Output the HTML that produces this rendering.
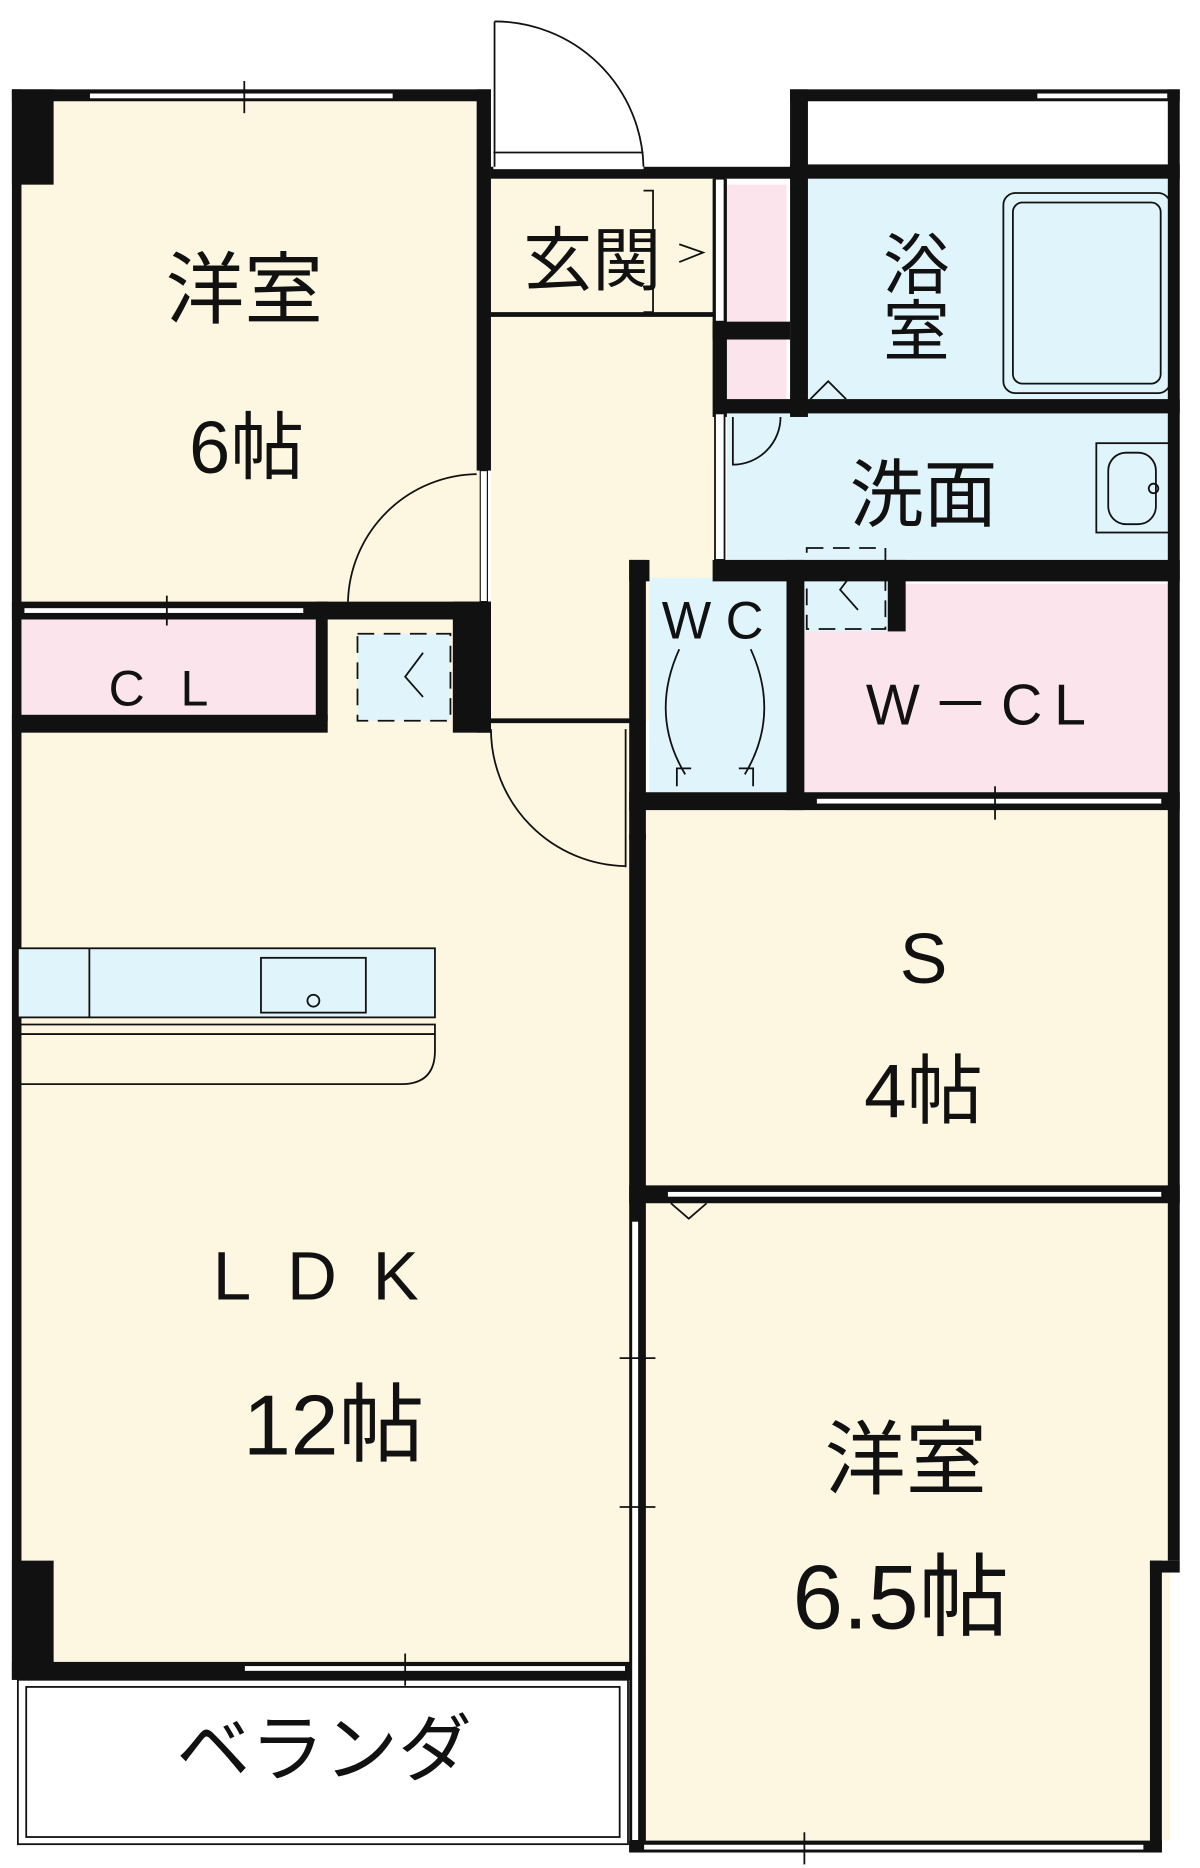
<!DOCTYPE html>
<html><head><meta charset="utf-8"><style>
html,body{margin:0;padding:0;background:#fff;}
svg{display:block;}
text{font-family:"Liberation Sans","Noto Sans CJK JP",sans-serif;fill:#111;}
</style></head><body>
<svg width="1200" height="1868" viewBox="0 0 1007 1568" preserveAspectRatio="none" xmlns="http://www.w3.org/2000/svg">
<rect width="1007" height="1568" fill="#fff"/>
<g stroke="none">
<rect x="15" y="85" width="387" height="420" fill="#fdf6e0"/>
<rect x="412" y="150" width="188" height="455" fill="#fdf6e0"/>
<rect x="15" y="520" width="250" height="82" fill="#fce4ec"/>
<rect x="275" y="520" width="127" height="95" fill="#fdf6e0"/>
<rect x="15" y="615" width="513" height="782" fill="#fdf6e0"/>
<rect x="412" y="605" width="116" height="100" fill="#fdf6e0"/>
<rect x="610" y="155" width="50" height="115" fill="#fce4ec"/>
<rect x="610" y="285" width="50" height="52" fill="#fce4ec"/>
<rect x="675" y="150" width="310" height="187" fill="#dff4fb"/>
<rect x="610" y="347" width="378" height="123" fill="#dff4fb"/>
<rect x="545" y="485" width="115" height="180" fill="#dff4fb"/>
<rect x="675" y="490" width="313" height="175" fill="#fce4ec"/>
<rect x="542" y="680" width="446" height="316" fill="#fdf6e0"/>
<rect x="542" y="1010" width="440" height="535" fill="#fdf6e0"/>
<rect x="300" y="532" width="78" height="73" fill="#dff4fb"/>
<rect x="675" y="460" width="70" height="70" fill="#dff4fb"/>
</g>
<g fill="#111">
<rect x="10" y="75" width="8" height="1335"/>
<rect x="10" y="75" width="35" height="80"/>
<rect x="10" y="1310" width="35" height="100"/>
<rect x="10" y="75" width="402" height="10"/>
<rect x="400" y="75" width="12" height="320"/>
<rect x="400" y="505" width="12" height="110"/>
<rect x="10" y="505" width="402" height="15"/>
<rect x="265" y="505" width="10" height="100"/>
<rect x="10" y="600" width="265" height="15"/>
<rect x="380" y="505" width="32" height="110"/>
<rect x="412" y="140" width="253" height="10"/>
<rect x="412" y="262" width="188" height="4"/>
<rect x="598" y="150" width="12" height="200"/>
<rect x="598" y="270" width="65" height="15"/>
<rect x="663" y="75" width="327" height="10"/>
<rect x="663" y="75" width="15" height="275"/>
<rect x="980" y="75" width="10" height="1235"/>
<rect x="663" y="138" width="327" height="12"/>
<rect x="600" y="335" width="390" height="12"/>
<rect x="598" y="470" width="392" height="18"/>
<rect x="528" y="470" width="17" height="18"/>
<rect x="528" y="470" width="14" height="235"/>
<rect x="528" y="1000" width="14" height="555"/>
<rect x="528" y="700" width="14" height="300"/>
<rect x="660" y="470" width="15" height="210"/>
<rect x="745" y="470" width="15" height="60"/>
<rect x="528" y="665" width="462" height="15"/>
<rect x="528" y="995" width="462" height="15"/>
<rect x="965" y="1310" width="25" height="10"/>
<rect x="965" y="1310" width="10" height="245"/>
<rect x="528" y="1545" width="447" height="10"/>
<rect x="10" y="1395" width="530" height="15"/>
<rect x="412" y="603" width="118" height="4"/>
</g>
<g fill="#fff" stroke="#111" stroke-width="1">
<rect x="75" y="78" width="255" height="5"/>
<rect x="870" y="78" width="110" height="5"/>
<rect x="20" y="510" width="235" height="5"/>
<rect x="685" y="670" width="290" height="5"/>
<rect x="560" y="1000" width="415" height="5"/>
<rect x="205" y="1398" width="320" height="5"/>
<rect x="540" y="1548" width="420" height="5"/>
<rect x="403" y="395" width="6" height="110"/>
<rect x="530" y="1025" width="6" height="520"/>
</g>
<g stroke="#111" stroke-width="1.5" fill="none">
<line x1="205" y1="68" x2="205" y2="95"/><line x1="140" y1="500" x2="140" y2="525"/>
<line x1="835" y1="660" x2="835" y2="688"/><line x1="340" y1="1388" x2="340" y2="1415"/>
<line x1="675" y1="1538" x2="675" y2="1565"/>
<line x1="520" y1="1140" x2="550" y2="1140"/><line x1="520" y1="1265" x2="550" y2="1265"/>
<rect x="414" y="128" width="126" height="14" fill="#fff" stroke="none"/>
<line x1="415" y1="18" x2="415" y2="140"/>
<path d="M415 18 A125 125 0 0 1 540 140"/>
<line x1="414" y1="128" x2="540" y2="128"/>
<rect x="600" y="150" width="8" height="120" fill="#fff"/>
<path d="M540 160 L548 160 L548 262 L540 262"/>
<path d="M570 205 L590 212 L570 220"/>
<path d="M400 398 A110 110 0 0 0 292 505"/>
<path d="M412 612 A115 115 0 0 0 525 727"/>
<line x1="525" y1="612" x2="525" y2="728"/>
<path d="M615 350 L615 390 A40 40 0 0 0 655 350"/>
<path d="M680 335 L695 320 L710 335"/>
<path d="M563 1010 L578 1023 L593 1010"/>
<rect x="600" y="347" width="8" height="123" fill="#fff"/>
<rect x="842" y="162" width="140" height="168" rx="10"/>
<rect x="850" y="170" width="124" height="152" rx="8"/>
<rect x="920" y="372" width="65" height="75"/>
<rect x="930" y="380" width="40" height="60" rx="15"/>
<circle cx="968" cy="410" r="4"/>
<path d="M570 545 Q545 600 575 650 M630 545 Q655 600 625 650"/>
<path d="M568 660 L568 645 L580 645 M632 660 L632 645 L620 645"/>
<g stroke-dasharray="14 8">
<rect x="300" y="532" width="78" height="73"/>
<rect x="677" y="460" width="66" height="68"/>
</g>
<path d="M355 548 L340 568 L355 585"/>
<path d="M720 475 L705 495 L720 512"/>
<rect x="15" y="796" width="350" height="58" fill="#dff4fb"/>
<line x1="75" y1="796" x2="75" y2="854"/>
<rect x="219" y="804" width="88" height="46"/>
<circle cx="263" cy="840" r="5"/>
<path d="M15 860 L365 860 L365 882 Q365 910 337 910 L15 910"/>
<line x1="15" y1="868" x2="365" y2="868"/>
<rect x="15" y="1410" width="512" height="138"/>
<rect x="22" y="1416" width="498" height="126"/>
</g>
<text x="205" y="266" font-size="66" text-anchor="middle">洋室</text>
<text x="207" y="397" font-size="62" text-anchor="middle">6帖</text>
<text x="497" y="239" font-size="58" text-anchor="middle">玄関</text>
<text x="769" y="242" font-size="56" text-anchor="middle">浴</text>
<text x="769" y="298" font-size="56" text-anchor="middle">室</text>
<text x="775" y="437" font-size="62" text-anchor="middle">洗面</text>
<text x="604" y="536" font-size="44" text-anchor="middle" letter-spacing="12">WC</text>
<text x="148" y="592" font-size="42" text-anchor="middle" letter-spacing="30">CL</text>
<text x="824" y="608" font-size="48" text-anchor="middle" letter-spacing="10">W－CL</text>
<text x="775" y="825" font-size="60" text-anchor="middle">S</text>
<text x="775" y="938" font-size="64" text-anchor="middle">4帖</text>
<text x="280" y="1091" font-size="58" text-anchor="middle" letter-spacing="30">LDK</text>
<text x="280" y="1221" font-size="72" text-anchor="middle">12帖</text>
<text x="760" y="1249" font-size="68" text-anchor="middle">洋室</text>
<text x="756" y="1367" font-size="76" text-anchor="middle">6.5帖</text>
<text x="272" y="1490" font-size="62" text-anchor="middle">ベランダ</text>
</svg>
</body></html>
